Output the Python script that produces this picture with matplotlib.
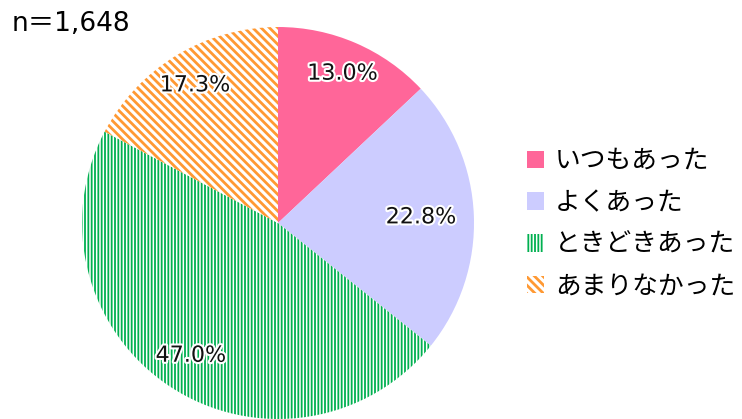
import matplotlib
matplotlib.use("Agg")
import numpy as np
import matplotlib.pyplot as plt
import matplotlib.patheffects as pe
from matplotlib.patches import Patch

plt.rcParams['font.family'] = ['Noto Sans CJK JP', 'DejaVu Sans']

# data
labels = ["いつもあった", "よくあった", "ときどきあった", "あまりなかった"]
shares = [13.0, 22.8, 47.0, 17.3]
sample_note = "n＝1,648"

# styles
face_colors = ["#FF6699", "#CCCCFF", "white", "white"]
hatch_colors = ["#FF6699", "#CCCCFF", "#00B050", "#FF9933"]
hatches = [None, None, "|||||", "\\\\\\\\"]
hatch_widths = [1.0, 1.0, 1.3, 2.0]
label_r = [0.83, 0.73, 0.81, 0.82]
latin = ['DejaVu Sans', 'Noto Sans CJK JP']

fig = plt.figure(figsize=(7.42, 4.19), dpi=100)
W, H = 742, 419
cx, cy, R = 278, 223, 196
ax = fig.add_axes([(cx - R) / W, (H - cy - R) / H, 2 * R / W, 2 * R / H])

wedges, _ = ax.pie(shares, startangle=90, counterclock=False, radius=1.0,
                   colors=face_colors, wedgeprops=dict(linewidth=0))
ax.set_xlim(-1, 1)
ax.set_ylim(-1, 1)
ax.set_aspect("equal")
ax.axis("off")

for w, hc, h, hw in zip(wedges, hatch_colors, hatches, hatch_widths):
    if h:
        w.set_hatch(h)
        w.set_edgecolor(hc)
        w.set_linewidth(0)
        if hasattr(w, "set_hatch_linewidth"):
            w.set_hatch_linewidth(hw)

halo = [pe.withStroke(linewidth=3, foreground="white")]
for w, v, r in zip(wedges, shares, label_r):
    mid = np.deg2rad((w.theta1 + w.theta2) / 2)
    ax.text(r * np.cos(mid), r * np.sin(mid), f"{v:.1f}%", ha="center",
            va="center", fontsize=16, family=latin, color="#111111",
            path_effects=halo)

fig.text(12 / W, 1 - 24 / H, sample_note, fontsize=19, family=latin,
         ha="left", va="center")

handles = []
for fc, hc, h in zip(face_colors, hatch_colors, hatches):
    handles.append(Patch(facecolor=fc, edgecolor=hc, hatch=h, linewidth=0))
leg = fig.legend(handles, labels, loc="center left",
                 bbox_to_anchor=(527 / W, 1 - 224 / H), frameon=False,
                 fontsize=18.5, handlelength=0.65, handleheight=0.65,
                 handletextpad=0.45, labelspacing=0.62, borderpad=0,
                 borderaxespad=0)
for p, hw in zip(leg.get_patches(), hatch_widths):
    if hasattr(p, "set_hatch_linewidth"):
        p.set_hatch_linewidth(hw)

fig.savefig("out.png", dpi=100)
